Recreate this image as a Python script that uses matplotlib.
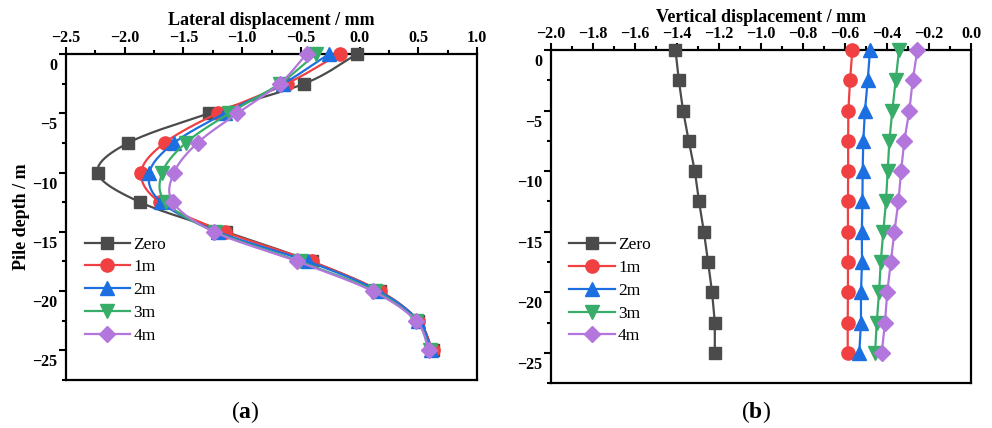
import numpy as np
import matplotlib
matplotlib.use("Agg")
import matplotlib.pyplot as plt
from matplotlib.ticker import MultipleLocator
from matplotlib.transforms import ScaledTranslation

plt.rcParams['font.family'] = ['Liberation Serif', 'DejaVu Serif']
plt.rcParams['mathtext.fontset'] = 'custom'
plt.rcParams['mathtext.rm'] = 'Liberation Serif'
plt.rcParams['mathtext.bf'] = 'Liberation Serif:bold'

# pile depth of every measured point (m)
depth = [0, -2.5, -5, -7.5, -10, -12.5, -15, -17.5, -20, -22.5, -25]
series_names = ["Zero", "1m", "2m", "3m", "4m"]

# (a) lateral displacement, mm
lat_zero = [-0.02, -0.47, -1.28, -1.97, -2.23, -1.87, -1.14, -0.41, 0.17, 0.50, 0.62]
lat_1m = [-0.17, -0.62, -1.21, -1.66, -1.86, -1.70, -1.15, -0.41, 0.17, 0.50, 0.62]
lat_2m = [-0.26, -0.65, -1.15, -1.58, -1.79, -1.69, -1.21, -0.44, 0.16, 0.50, 0.61]
lat_3m = [-0.37, -0.68, -1.11, -1.48, -1.68, -1.65, -1.23, -0.51, 0.13, 0.48, 0.60]
lat_4m = [-0.45, -0.68, -1.04, -1.38, -1.58, -1.59, -1.24, -0.53, 0.11, 0.48, 0.59]

# (b) vertical displacement, mm
ver_zero = [-1.406, -1.390, -1.370, -1.343, -1.314, -1.294, -1.271, -1.251, -1.232, -1.219, -1.219]
ver_1m = [-0.565, -0.576, -0.584, -0.585, -0.585, -0.586, -0.586, -0.586, -0.586, -0.587, -0.587]
ver_2m = [-0.481, -0.492, -0.505, -0.513, -0.516, -0.517, -0.520, -0.519, -0.524, -0.524, -0.532]
ver_3m = [-0.343, -0.359, -0.375, -0.389, -0.397, -0.405, -0.418, -0.430, -0.438, -0.449, -0.457]
ver_4m = [-0.256, -0.278, -0.294, -0.318, -0.333, -0.346, -0.365, -0.382, -0.399, -0.410, -0.425]

colors = ["#4b4b4b", "#f04042", "#1c6fe0", "#38ad69", "#b276dc"]
markers = ["s", "o", "^", "v", "D"]
msizes = [9, 9.5, 9.5, 9.5, 8]


def smooth(xs, ys, n=24):
    # catmull-rom curve through the points, for drawing only
    p = np.column_stack([xs, ys]).astype(float)
    p = np.vstack([2 * p[0] - p[1], p, 2 * p[-1] - p[-2]])
    out = []
    t = np.linspace(0, 1, n, endpoint=False)[:, None]
    for i in range(1, len(p) - 2):
        p0, p1, p2, p3 = p[i - 1], p[i], p[i + 1], p[i + 2]
        seg = 0.5 * ((2 * p1) + (-p0 + p2) * t + (2 * p0 - 5 * p1 + 4 * p2 - p3) * t ** 2
                     + (-p0 + 3 * p1 - 3 * p2 + p3) * t ** 3)
        out.append(seg)
    out.append(p[-2][None, :])
    out = np.vstack(out)
    return out[:, 0], out[:, 1]


def style_axes(ax, xmin, xmax, xmaj, xmin_step):
    ax.set_xlim(xmin, xmax)
    ax.set_ylim(-27.5, 0)
    ax.xaxis.set_major_locator(MultipleLocator(xmaj))
    ax.xaxis.set_minor_locator(MultipleLocator(xmin_step))
    ax.yaxis.set_major_locator(MultipleLocator(5))
    ax.yaxis.set_minor_locator(MultipleLocator(2.5))
    ax.xaxis.tick_top()
    ax.xaxis.set_label_position("top")
    ax.tick_params(which="both", direction="out", width=1.5, labelsize=11.5, pad=1)
    ax.tick_params(which="major", length=5)
    ax.tick_params(which="minor", length=3)
    for s in ax.spines.values():
        s.set_linewidth(1.6)
    for lab in ax.get_xticklabels() + ax.get_yticklabels():
        lab.set_fontweight("bold")
    # tick labels on the depth axis sit a little below their ticks
    off = ScaledTranslation(0, -10 / 100, ax.figure.dpi_scale_trans)
    for lab in ax.get_yticklabels():
        lab.set_transform(lab.get_transform() + off)


fig = plt.figure(figsize=(9.92, 4.28), dpi=100)
ax1 = fig.add_axes([0.0665, 0.112, 0.4145, 0.762])
ax2 = fig.add_axes([0.555, 0.105, 0.424, 0.778])

lat = [lat_zero, lat_1m, lat_2m, lat_3m, lat_4m]
ver = [ver_zero, ver_1m, ver_2m, ver_3m, ver_4m]

for i in range(5):
    sx, sy = smooth(lat[i], depth)
    ax1.plot(sx, sy, color=colors[i], lw=1.6, zorder=3 + i, clip_on=False)
    ax1.plot(lat[i], depth, ls="none", marker=markers[i], ms=msizes[i],
             color=colors[i], zorder=3 + i, clip_on=False)
    # legend proxy
    ax1.plot([], [], color=colors[i], lw=1.6, marker=markers[i], ms=msizes[i],
             label=series_names[i])

for i in range(5):
    ax2.plot(ver[i], depth, color=colors[i], lw=1.6, marker=markers[i],
             ms=msizes[i], label=series_names[i], zorder=3 + i, clip_on=False)

style_axes(ax1, -2.5, 1.0, 0.5, 0.25)
style_axes(ax2, -2.0, 0.0, 0.2, 0.1)

ax1.set_xlabel("Lateral displacement / mm", fontsize=13, fontweight="bold", labelpad=3)
ax1.set_ylabel("Pile depth / m", fontsize=13, fontweight="bold")
ax1.yaxis.set_label_coords(-0.088, 0.5)
ax2.set_xlabel("Vertical displacement / mm", fontsize=13, fontweight="bold", labelpad=3)

for ax, anchor in [(ax1, (0.046, 0.44)), (ax2, (0.045, 0.438))]:
    ax.legend(loc="upper left", bbox_to_anchor=anchor, frameon=False, fontsize=12.5,
              handlelength=2.6, handletextpad=0.2, labelspacing=0.38,
              borderaxespad=0, borderpad=0)

fig.text(0.247, 0.037, r"($\mathbf{a}$)", ha="center", va="center", fontsize=17)
fig.text(0.762, 0.037, r"($\mathbf{b}$)", ha="center", va="center", fontsize=17)

fig.savefig("out.png", dpi=100, facecolor="white")
